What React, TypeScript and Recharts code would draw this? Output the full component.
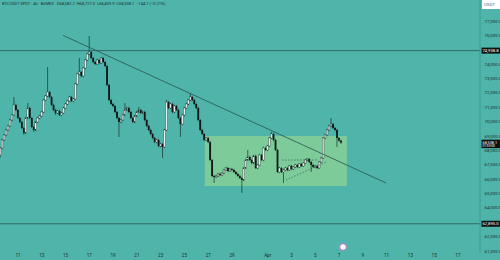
import React from "react";
import { ComposedChart, Bar, XAxis, YAxis, ReferenceLine, ReferenceArea, ReferenceDot } from "recharts";

// BTCUSDT 4h candles, hours counted from Mar 11 00:00
const firstHour = -36;
const candleHours = 4;

const opens = [
  67678, 68165, 68722, 69070, 69417, 69696, 70113, 70461, 71157, 70809,
  70252, 69974, 69557, 69209, 70252, 70948, 70252, 69626, 69417, 69974,
  70252, 70391, 70670, 71504, 71783, 72061, 71713, 71157, 70809, 70600,
  70739, 70461, 70600, 70948, 71226, 71435, 71713, 71435, 71574, 72617,
  73313, 73452, 73174, 73730, 74287, 74704, 74843, 74426, 74148, 74009,
  74287, 74078, 74426, 74148, 73870, 72548, 71504, 71226, 71087, 70670,
  70252, 69974, 70113, 70461, 70809, 70948, 70670, 70252, 69974, 70391,
  70670, 70809, 70600, 70670, 70113, 69696, 69417, 69139, 68861, 68583,
  68722, 68304, 68443, 68235, 69417, 71365, 70948, 71226, 70670, 71087,
  70809, 70252, 69835, 70461, 70948, 71226, 71504, 71713, 71504, 71226,
  70948, 70113, 69417, 69139, 68722, 68861, 68583, 67330, 66217, 66148,
  66217, 66357, 66287, 66426, 66635, 66774, 66565, 66704, 66635, 66496,
  66357, 66217, 66078, 65939, 66774, 67330, 67539, 67330, 67122, 67609,
  66774, 66983, 67678, 67330, 68165, 68026, 68304, 68861, 69139, 68722,
  68026, 66496, 66774, 66496, 66635, 66774, 66635, 66913, 66704, 66843,
  66983, 66843, 67052, 66913, 67122, 67330, 67400, 67191, 66983, 66843,
  66913, 66774, 67191, 67470, 68861, 69070, 69417, 69696, 69835, 69557,
  69417, 68861, 68682.2,
];

const highs = [
  68250, 68800, 69150, 69500, 69780, 70200, 70540, 71713, 71240, 70890,
  70330, 70050, 69640, 70330, 71296, 71030, 70330, 69710, 70050, 70330,
  70470, 70750, 71590, 71860, 73800, 72140, 71790, 71240, 70890, 70820,
  70820, 70680, 71030, 71310, 71510, 71790, 71790, 71650, 72700, 73390,
  74426, 73530, 73810, 74370, 74780, 75957, 74920, 74500, 74230, 74370,
  74370, 74500, 74500, 74230, 73950, 72630, 71590, 71310, 71160, 70750,
  70330, 70190, 70540, 71296, 71030, 71030, 70750, 70330, 70470, 70750,
  71017, 70890, 70750, 70750, 70190, 69780, 69500, 69220, 68940, 68800,
  68800, 68520, 68520, 69500, 71510, 71440, 71310, 71310, 71160, 71160,
  70890, 70330, 70540, 71030, 71310, 71590, 71991, 71790, 71590, 71310,
  71030, 70190, 69500, 69220, 68940, 68940, 68660, 67410, 66300, 66300,
  66440, 66440, 66510, 66720, 66850, 66850, 66780, 66780, 66720, 66580,
  66440, 66300, 66160, 66850, 67410, 68026, 67620, 67410, 67690, 67690,
  67060, 67760, 67760, 68250, 68250, 68380, 68940, 69278, 69220, 68800,
  68100, 66850, 66850, 66720, 66850, 66850, 66990, 66990, 66920, 67060,
  67060, 67130, 67130, 67200, 67410, 67470, 67470, 67270, 67060, 66990,
  66990, 67270, 67550, 68940, 69150, 69500, 69780, 70252, 69910, 69640,
  69500, 68940, 68727.0,
];

const lows = [
  67470, 68080, 68640, 68990, 69340, 69620, 70030, 70380, 70730, 70170,
  69890, 69480, 69070, 69130, 70170, 70170, 69550, 69280, 69340, 69890,
  70170, 70310, 70590, 71420, 71700, 71630, 71080, 70730, 70460, 70520,
  70380, 70380, 70520, 70870, 71150, 71360, 71360, 71360, 71500, 72540,
  73230, 73090, 73090, 73650, 74210, 74620, 74350, 74070, 73930, 73930,
  74000, 74000, 74070, 73790, 72470, 71420, 71150, 71010, 70590, 70170,
  68930, 69890, 70030, 70380, 70730, 70590, 70170, 69890, 69890, 70310,
  70590, 70520, 70520, 70030, 69620, 69340, 69060, 68780, 68500, 68500,
  68220, 68220, 67470, 68160, 69340, 70870, 70870, 70590, 70590, 70730,
  70170, 68930, 69750, 70380, 70870, 71150, 71420, 71420, 71150, 70870,
  70030, 69340, 69060, 68640, 68640, 68500, 67250, 66140, 65730, 66070,
  66140, 66210, 66210, 66350, 66560, 66490, 66490, 66560, 66420, 66280,
  66140, 66000, 65035, 65860, 66700, 67250, 67250, 67040, 67040, 66700,
  66700, 66900, 67250, 67250, 67950, 67950, 68220, 68780, 68640, 67950,
  66420, 66420, 66420, 65730, 66560, 66560, 66560, 66630, 66630, 66770,
  66770, 66770, 66840, 66840, 67040, 67250, 67110, 66496, 66770, 66770,
  66700, 66700, 67110, 67400, 68780, 68990, 69340, 69620, 69480, 69340,
  68235, 68600, 68459.9,
];

const closes = [
  68165, 68722, 69070, 69417, 69696, 70113, 70461, 71157, 70809, 70252,
  69974, 69557, 69209, 70252, 70948, 70252, 69626, 69417, 69974, 70252,
  70391, 70670, 71504, 71783, 72061, 71713, 71157, 70809, 70600, 70739,
  70461, 70600, 70948, 71226, 71435, 71713, 71435, 71574, 72617, 73313,
  73452, 73174, 73730, 74287, 74704, 74843, 74426, 74148, 74009, 74287,
  74078, 74426, 74148, 73870, 72548, 71504, 71226, 71087, 70670, 70252,
  69974, 70113, 70461, 70809, 70948, 70670, 70252, 69974, 70391, 70670,
  70809, 70600, 70670, 70113, 69696, 69417, 69139, 68861, 68583, 68722,
  68304, 68443, 68235, 69417, 71365, 70948, 71226, 70670, 71087, 70809,
  70252, 69835, 70461, 70948, 71226, 71504, 71713, 71504, 71226, 70948,
  70113, 69417, 69139, 68722, 68861, 68583, 67330, 66217, 66148, 66217,
  66357, 66287, 66426, 66635, 66774, 66565, 66704, 66635, 66496, 66357,
  66217, 66078, 65939, 66774, 67330, 67539, 67330, 67122, 67609, 66774,
  66983, 67678, 67330, 68165, 68026, 68304, 68861, 69139, 68722, 68026,
  66496, 66774, 66496, 66635, 66774, 66635, 66913, 66704, 66843, 66983,
  66843, 67052, 66913, 67122, 67330, 67400, 67191, 66983, 66843, 66913,
  66774, 67191, 67470, 68861, 69070, 69417, 69696, 69835, 69557, 69417,
  68861, 68682.2, 68538.1,
];

const tickHours = [0, 48, 96, 144, 192, 240, 288, 336, 384, 432, 504, 552, 600, 648, 696, 744, 792, 840, 888];
const tickLabels = ["11", "13", "15", "17", "19", "21", "23", "25", "27", "29", "Apr", "3", "5", "7", "9", "11", "13", "15", "17"];
const priceTicks = [61000, 62000, 64000, 65000, 66000, 67000, 68000, 69000, 70000, 71000, 72000, 73000, 74000, 76000, 77000];

const resistance = 74938.8;
const support = 62895.0;
const lastPrice = 68538.1;
const countdown = "01:59:00";
const trendLine = [{ x: 91, y: 76000 }, { x: 743, y: 65730 }];
const rangeBox = { x1: 377, x2: 664, y1: 65522, y2: 69000 };
const flatLine = [{ x: 533, y: 67330 }, { x: 605, y: 67330 }];
const riseLine = [{ x: 541, y: 65939 }, { x: 622, y: 67191 }];
const eventMark = { x: 656, y: 61278 };

const title = "BTCUSDT SPOT · 4h · BitMEX   O68,682.2  H68,727.0  L68,459.9  C68,538.1  −144.1 (−0.21%)";

const candles = opens.map((o, i) => ({
  t: firstHour + candleHours * i,
  o,
  h: highs[i],
  l: lows[i],
  c: closes[i],
  range: [lows[i], highs[i]],
}));

const BG = "#4fb5ab";
const INK = "#1d2e2c";
const fmt = (v: number) => v.toLocaleString("en-US", { minimumFractionDigits: 1, maximumFractionDigits: 1 });

function Candle(props: any) {
  const { x, y, width, height, payload } = props;
  if (x == null || y == null) return null;
  const top = Math.min(y, y + height);
  const h = Math.abs(height);
  const span = payload.h - payload.l || 1;
  const py = (p: number) => top + ((payload.h - p) / span) * h;
  const up = payload.c >= payload.o;
  const bt = py(Math.max(payload.o, payload.c));
  const bb = py(Math.min(payload.o, payload.c));
  const cx = x + width / 2;
  return (
    <g>
      <line x1={cx} x2={cx} y1={top} y2={top + h} stroke={INK} strokeWidth={0.7} />
      <rect
        x={x}
        y={bt}
        width={width}
        height={Math.max(bb - bt, 0.8)}
        fill={up ? "#e6efec" : "#0f1817"}
        stroke={INK}
        strokeWidth={up ? 0.35 : 0}
      />
    </g>
  );
}

// black price tag on the right axis, optional second line below
const tag = (text: string, sub?: string) => (p: any) => {
  const vb = p.viewBox || {};
  const x = (vb.x || 0) + (vb.width || 0) + 1.5;
  const y = vb.y || 0;
  const top = sub ? y - 3 : y - 3;
  const hh = sub ? 8.5 : 6;
  return (
    <g>
      <rect x={x} y={top} width={18.5} height={hh} fill="#0c1211" />
      <text x={x + 1} y={y + (sub ? 0.9 : 1.4)} fontSize={sub ? 3.8 : 4.2} fill="#ffffff" fontFamily="Roboto, sans-serif">
        {text}
      </text>
      {sub && (
        <text x={x + 1} y={y + 4.5} fontSize={3.2} fill="#ffffff" fontFamily="Roboto, sans-serif">
          {sub}
        </text>
      )}
    </g>
  );
};

export default function App() {
  return (
    <div style={{ position: "absolute", left: 0, top: 0, width: 500, height: 260, background: BG, overflow: "hidden" }}>
      <ComposedChart width={500} height={260} data={candles} margin={{ top: 0, right: 0, bottom: 0, left: 0 }}>
        <XAxis
          dataKey="t"
          type="number"
          domain={[-36.3, 932.5]}
          allowDataOverflow
          ticks={tickHours}
          tickFormatter={(v: number) => tickLabels[tickHours.indexOf(v)] ?? ""}
          interval={0}
          height={7}
          tickSize={0}
          tickMargin={1}
          axisLine={false}
          tick={{ fontSize: 4.6, fill: INK, fontFamily: "Roboto, sans-serif" }}
        />
        <YAxis
          orientation="right"
          type="number"
          domain={[60861, 78461]}
          allowDataOverflow
          ticks={priceTicks}
          interval={0}
          width={20}
          tickLine={false}
          tickSize={2.5}
          axisLine={{ stroke: "#3e9d93" }}
          tickFormatter={fmt}
          tick={{ fontSize: 4.4, fill: INK, fontFamily: "Roboto, sans-serif", textAnchor: "start" }}
        />
        <ReferenceArea
          x1={rangeBox.x1}
          x2={rangeBox.x2}
          y1={rangeBox.y1}
          y2={rangeBox.y2}
          fill="#aae187"
          fillOpacity={0.5}
          stroke="none"
        />
        <ReferenceLine y={resistance} stroke="#2d625d" strokeWidth={0.9} label={tag(fmt(resistance))} />
        <ReferenceLine y={support} stroke="#2d625d" strokeWidth={0.9} label={tag(fmt(support))} />
        <ReferenceLine y={lastPrice} stroke="none" label={tag(fmt(lastPrice), countdown)} />
        <ReferenceLine segment={trendLine} stroke="#2a524e" strokeWidth={0.8} ifOverflow="visible" />
        <ReferenceLine segment={flatLine} stroke="#2a524e" strokeWidth={0.6} strokeDasharray="1.5 1.5" />
        <ReferenceLine segment={riseLine} stroke="#2a524e" strokeWidth={0.6} strokeDasharray="1.5 1.5" />
        <Bar dataKey="range" barSize={1.8} shape={Candle} isAnimationActive={false} />
        <ReferenceDot x={eventMark.x} y={eventMark.y} r={3.3} fill="#ffffff" stroke="#d04fc6" strokeWidth={0.8} />
      </ComposedChart>
      <div
        style={{
          position: "absolute",
          left: 2,
          top: 1,
          fontSize: 4,
          lineHeight: "6px",
          color: INK,
          fontFamily: "Roboto, sans-serif",
          whiteSpace: "pre",
        }}
      >
        {title}
      </div>
      <div
        style={{
          position: "absolute",
          left: 482,
          top: 0,
          width: 18,
          height: 9,
          background: "#ffffff",
          color: "#5c6b69",
          fontSize: 4.4,
          lineHeight: "9px",
          paddingLeft: 2,
          boxSizing: "border-box",
          fontFamily: "Roboto, sans-serif",
        }}
      >
        USDT
      </div>
    </div>
  );
}
